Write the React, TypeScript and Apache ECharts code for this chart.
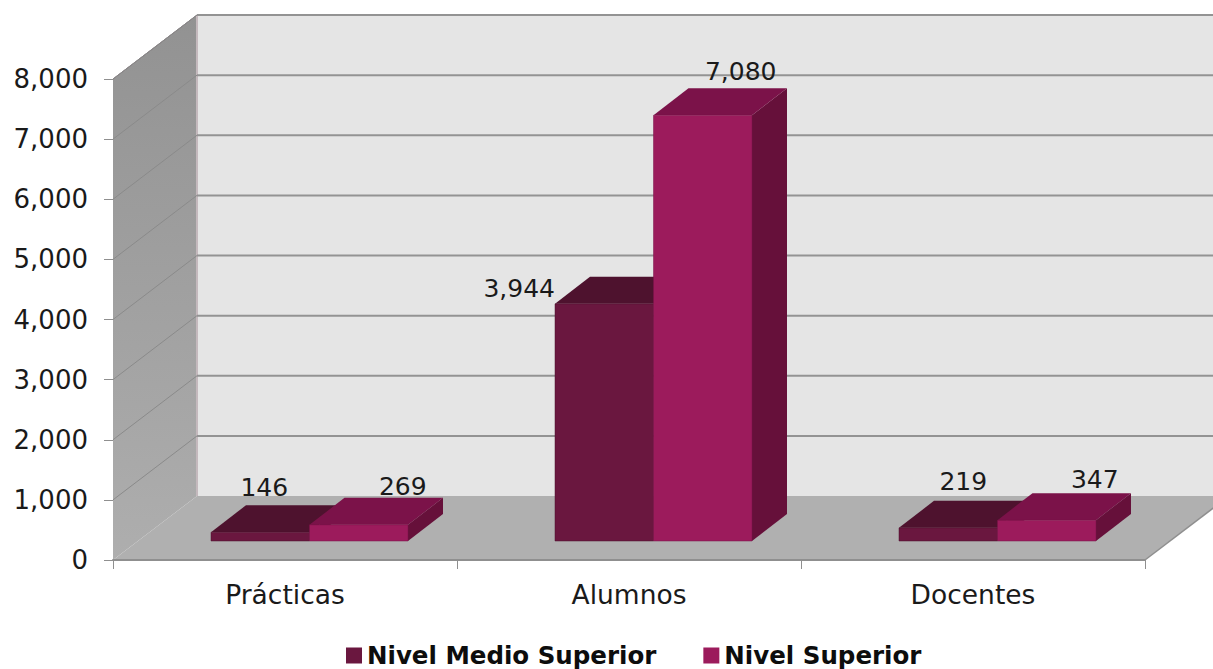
import React, { useEffect, useRef } from "react";
import * as echarts from "echarts";

const categories = ["Prácticas", "Alumnos", "Docentes"];
const nivelMedio = [146, 3944, 219];
const nivelSuperior = [269, 7080, 347];
const yTicks = [0, 1000, 2000, 3000, 4000, 5000, 6000, 7000, 8000];
const seriesNames = ["Nivel Medio Superior", "Nivel Superior"];

// Projection of the 3D box, in pixels
const WALL_DX = 84;
const WALL_DY = -64;
const BAR_SHIFT_X = 24.5;
const BAR_SHIFT_Y = -19;
const BAR_W = 98.5;
const BAR_DX = 35;
const BAR_DY = -27;
const FONT = "'DejaVu Sans', sans-serif";

// Where the data labels sit relative to each bar's top-front centre
const medioLabelOffset = [[4, -45], [-85, -15], [15, -46]];
const superiorLabelOffset = [[44, -38], [38, -44], [48, -41]];

const fmt = (v: number) => v.toLocaleString("en-US");

const pts = (p: number[][]) => ({ points: p });

function wallsItem(params: any, api: any) {
  const cs = params.coordSys;
  const l = cs.x, r = cs.x + cs.width, t = cs.y, b = cs.y + cs.height;
  const dx = WALL_DX, dy = WALL_DY;
  return {
    type: "group",
    children: [
      {
        type: "polygon",
        shape: pts([[l + dx, t + dy], [r + dx, t + dy], [r + dx, b + dy], [l + dx, b + dy]]),
        style: { fill: "#e5e5e5" },
      },
      {
        type: "polygon",
        shape: pts([[l, t], [l + dx, t + dy], [l + dx, b + dy], [l, b]]),
        style: {
          fill: new echarts.graphic.LinearGradient(0, 0, 0, 1, [
            { offset: 0, color: "#929292" },
            { offset: 1, color: "#aeaeae" },
          ]),
        },
      },
      {
        type: "polygon",
        shape: pts([[l, b], [r, b], [r + dx, b + dy], [l + dx, b + dy]]),
        style: { fill: "#b0b0b0" },
      },
      {
        type: "line",
        shape: { x1: l + dx, y1: t + dy, x2: l + dx, y2: b + dy },
        style: { stroke: "#c4b9bd", lineWidth: 2 },
      },
      {
        type: "line",
        shape: { x1: l, y1: t, x2: l + dx, y2: t + dy },
        style: { stroke: "#7d6f75", lineWidth: 1 },
      },
      {
        type: "line",
        shape: { x1: r, y1: b, x2: r + dx, y2: b + dy },
        style: { stroke: "#8f8f8f", lineWidth: 1.5 },
      },
    ],
  };
}

function gridItem(params: any, api: any) {
  const cs = params.coordSys;
  const y = api.coord([0, api.value(0)])[1];
  const l = cs.x, r = cs.x + cs.width;
  return {
    type: "group",
    children: [
      {
        type: "line",
        shape: { x1: l, y1: y, x2: l + WALL_DX, y2: y + WALL_DY },
        style: { stroke: "#8a8a8a", lineWidth: 1 },
      },
      {
        type: "line",
        shape: { x1: l + WALL_DX, y1: y + WALL_DY, x2: r + WALL_DX, y2: y + WALL_DY },
        style: { stroke: "#939393", lineWidth: 2 },
      },
    ],
  };
}

function barRenderer(side: number, front: string, top: string, right: string) {
  return (params: any, api: any) => {
    const idx = api.value(0);
    const val = api.value(1);
    const pTop = api.coord([idx, val]);
    const pBase = api.coord([idx, 0]);
    const cx = pTop[0] + BAR_SHIFT_X;
    const x0 = side === 0 ? cx - BAR_W : cx;
    const x1 = x0 + BAR_W;
    const yT = pTop[1] + BAR_SHIFT_Y;
    const yB = pBase[1] + BAR_SHIFT_Y;
    return {
      type: "group",
      children: [
        {
          type: "polygon",
          shape: pts([[x1, yT], [x1 + BAR_DX, yT + BAR_DY], [x1 + BAR_DX, yB + BAR_DY], [x1, yB]]),
          style: { fill: right },
        },
        {
          type: "polygon",
          shape: pts([[x0, yT], [x0 + BAR_DX, yT + BAR_DY], [x1 + BAR_DX, yT + BAR_DY], [x1, yT]]),
          style: { fill: top },
        },
        {
          type: "rect",
          shape: { x: x0, y: yT, width: BAR_W, height: yB - yT },
          style: { fill: front, stroke: top, lineWidth: 0.5 },
        },
      ],
    };
  };
}

function labelRenderer(offs: number[][], side: number) {
  return (params: any, api: any) => {
    const idx = api.value(0);
    const pTop = api.coord([idx, api.value(1)]);
    const cx = pTop[0] + BAR_SHIFT_X + (side === 0 ? -BAR_W / 2 : BAR_W / 2);
    const yT = pTop[1] + BAR_SHIFT_Y;
    return {
      type: "text",
      style: {
        text: fmt(api.value(1)),
        x: cx + offs[idx][0],
        y: yT + offs[idx][1],
        align: "center",
        verticalAlign: "middle",
        fontFamily: FONT,
        fontSize: 25,
        fill: "#1a1a1a",
      },
    };
  };
}

const toPairs = (vals: number[]) => vals.map((v, i) => [i, v]);

export default function App() {
  const ref = useRef<HTMLDivElement>(null);
  useEffect(() => {
    document.body.style.margin = "0";
    const chart = echarts.init(ref.current!, undefined, { renderer: "svg" });
    chart.setOption({
      animation: false,
      backgroundColor: "#ffffff",
      textStyle: { fontFamily: FONT },
      grid: { left: 113, top: 79, width: 1032, height: 481, containLabel: false },
      legend: {
        data: seriesNames,
        left: 346,
        top: 643,
        padding: 0,
        itemWidth: 16,
        itemHeight: 16,
        itemGap: 47,
        icon: "rect",
        textStyle: { fontFamily: FONT, fontSize: 24.5, fontWeight: "bold", color: "#0d0d0d" },
        selectedMode: false,
      },
      xAxis: {
        type: "category",
        data: categories,
        z: 10,
        boundaryGap: true,
        axisLine: { show: true, lineStyle: { color: "#8f8f8f", width: 2 } },
        axisTick: { show: true, alignWithLabel: false, length: 9, lineStyle: { color: "#8f8f8f", width: 1 } },
        axisLabel: { fontFamily: FONT, fontSize: 26.5, color: "#1a1a1a", margin: 21 },
      },
      yAxis: {
        type: "value",
        min: 0,
        max: 8000,
        interval: 1000,
        z: 10,
        axisLine: { show: false },
        axisTick: { show: true, length: 9, lineStyle: { color: "#8f8f8f", width: 1 } },
        splitLine: { show: false },
        axisLabel: { fontFamily: FONT, fontSize: 26, color: "#1a1a1a", margin: 25, padding: [3, 0, 0, 0], formatter: (v: number) => fmt(v) },
      },
      series: [
        { type: "custom", name: "walls", silent: true, z: 1, data: [[0]], renderItem: wallsItem },
        { type: "custom", name: "grid", silent: true, z: 2, data: yTicks.slice(1).map((v) => [v]), renderItem: gridItem },
        {
          type: "custom",
          name: seriesNames[0],
          z: 3,
          itemStyle: { color: "#6a173f" },
          data: toPairs(nivelMedio),
          renderItem: barRenderer(0, "#6a173f", "#4e122e", "#5a1235"),
        },
        {
          type: "custom",
          name: seriesNames[1],
          z: 4,
          itemStyle: { color: "#9c1b5c" },
          data: toPairs(nivelSuperior),
          renderItem: barRenderer(1, "#9c1b5c", "#7b1249", "#66103a"),
        },
        { type: "custom", name: "labelsMedio", silent: true, z: 5, data: toPairs(nivelMedio), renderItem: labelRenderer(medioLabelOffset, 0) },
        { type: "custom", name: "labelsSuperior", silent: true, z: 5, data: toPairs(nivelSuperior), renderItem: labelRenderer(superiorLabelOffset, 1) },
      ],
    });
    return () => chart.dispose();
  }, []);
  return <div ref={ref} style={{ position: "absolute", left: 0, top: 0, width: 1213, height: 669 }} />;
}
